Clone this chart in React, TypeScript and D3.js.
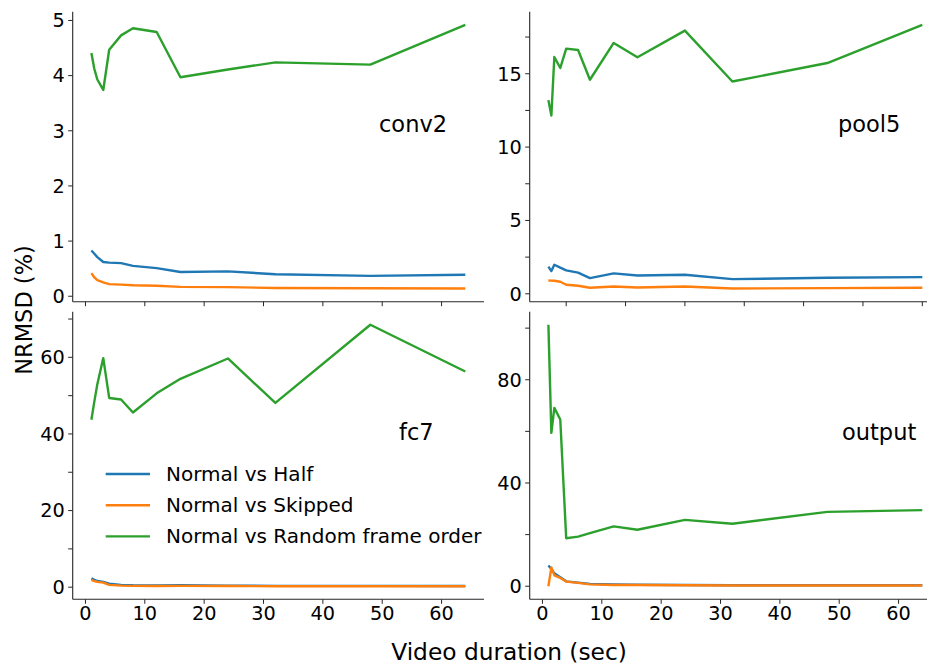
import React from "react";
import { scaleLinear, line, extent, range } from "d3";

// x: video duration in seconds
const durations = [1, 1.5, 2, 3, 4, 6, 8, 12, 16, 24, 32, 48, 64];
const seriesNames = ["Normal vs Half", "Normal vs Skipped", "Normal vs Random frame order"];
const seriesColors = ["#1f77b4", "#ff7f0e", "#2ca02c"];
const xTicks = [0, 10, 20, 30, 40, 50, 60];

const conv2Half = [0.83, 0.77, 0.71, 0.62, 0.61, 0.6, 0.55, 0.51, 0.44, 0.45, 0.4, 0.37, 0.39];
const conv2Skipped = [0.42, 0.34, 0.29, 0.25, 0.22, 0.21, 0.2, 0.19, 0.17, 0.165, 0.15, 0.145, 0.14];
const conv2Random = [4.41, 4.12, 3.93, 3.74, 4.47, 4.73, 4.86, 4.79, 3.97, 4.11, 4.24, 4.2, 4.92];

const pool5Half = [1.85, 1.55, 1.98, 1.78, 1.6, 1.44, 1.07, 1.39, 1.25, 1.3, 1.0, 1.09, 1.14];
const pool5Skipped = [0.91, 0.9, 0.89, 0.82, 0.62, 0.55, 0.41, 0.5, 0.43, 0.5, 0.36, 0.39, 0.41];
const pool5Random = [13.2, 12.15, 16.14, 15.39, 16.71, 16.62, 14.59, 17.1, 16.12, 17.94, 14.47, 15.73, 18.33];

const fc7Half = [2.3, 1.9, 1.6, 1.4, 0.9, 0.6, 0.5, 0.45, 0.5, 0.4, 0.35, 0.35, 0.3];
const fc7Skipped = [1.9, 1.6, 1.4, 1.2, 0.6, 0.4, 0.35, 0.3, 0.35, 0.3, 0.25, 0.25, 0.25];
const fc7Random = [43.7, 48.5, 53, 59.8, 49.4, 49.0, 45.6, 50.6, 54.4, 59.7, 48.1, 68.5, 56.3];

const outputHalf = [8.0, 6.7, 5.0, 3.5, 1.9, 1.4, 0.9, 0.7, 0.6, 0.5, 0.4, 0.4, 0.4];
const outputSkipped = [0, 7.3, 4.2, 3.2, 1.8, 1.3, 0.7, 0.5, 0.5, 0.4, 0.3, 0.3, 0.3];
const outputRandom = [101.3, 59.4, 69.1, 64.6, 18.6, 19.2, 20.6, 23.2, 21.9, 25.7, 24.2, 28.8, 29.5];

const ink = "#262626";
const font = "DejaVu Sans, sans-serif";
const tickFont = 19.3;

const panels = [
  {
    name: "conv2",
    series: [conv2Half, conv2Skipped, conv2Random],
    tickStep: 1, labelEvery: 1, tickMax: 5,
    left: 72.7, top: 11.7, width: 411.3, height: 290,
    labelX: 379, labelY: 132, xShift: 0, bottom: false,
  },
  {
    name: "pool5",
    series: [pool5Half, pool5Skipped, pool5Random],
    tickStep: 2.5, labelEvery: 2, tickMax: 17.5,
    left: 529.7, top: 11.7, width: 411.3, height: 290,
    labelX: 838, labelY: 132, xShift: 4, bottom: false,
  },
  {
    name: "fc7",
    series: [fc7Half, fc7Skipped, fc7Random],
    tickStep: 10, labelEvery: 2, tickMax: 70,
    left: 72.7, top: 311.7, width: 411.3, height: 287.6,
    labelX: 399, labelY: 440, xShift: 0, bottom: true,
  },
  {
    name: "output",
    series: [outputHalf, outputSkipped, outputRandom],
    tickStep: 20, labelEvery: 2, tickMax: 100,
    left: 529.7, top: 311.7, width: 411.3, height: 287.6,
    labelX: 842, labelY: 440, xShift: 0, bottom: true,
  },
];

const pad = (lo: number, hi: number) => {
  const m = (hi - lo) * 0.05;
  return [lo - m, hi + m];
};

const Panel = ({ p, showLegend }: { p: any; showLegend: boolean }) => {
  const [x0, x1] = extent(durations) as [number, number];
  const x = scaleLinear().domain(pad(x0, x1)).range([0, p.width]);
  const all = p.series.flat();
  const [y0, y1] = extent(all) as [number, number];
  const y = scaleLinear().domain(pad(y0, y1)).range([p.height, 0]);
  const path = line<number>()
    .x((_, i) => x(durations[i]))
    .y((d) => y(d));
  const yTicks = range(0, p.tickMax + p.tickStep / 2, p.tickStep);

  return (
    <g transform={`translate(${p.left},${p.top})`}>
      {p.series.map((s: number[], i: number) => (
        <path key={i} d={path(s) || ""} fill="none" stroke={seriesColors[i]} strokeWidth={2.4} strokeLinejoin="round" />
      ))}
      <line x1={0} x2={0} y1={0} y2={p.height} stroke={ink} strokeWidth={1.1} />
      <line x1={0} x2={p.width} y1={p.height} y2={p.height} stroke={ink} strokeWidth={1.1} />
      {yTicks.map((t: number, i: number) => (
        <g key={t} transform={`translate(0,${y(t)})`}>
          <line x1={-4.5} x2={0} stroke={ink} strokeWidth={1} />
          {i % p.labelEvery === 0 && (
            <text x={-8} dy="0.35em" textAnchor="end" fontSize={tickFont} fill="#000">
              {t}
            </text>
          )}
        </g>
      ))}
      {xTicks.map((t) => (
        <g key={t} transform={`translate(${x(t + p.xShift)},${p.height})`}>
          <line y1={0} y2={4.5} stroke={ink} strokeWidth={1} />
          {p.bottom && (
            <text y={21} textAnchor="middle" fontSize={tickFont} fill="#000">
              {t}
            </text>
          )}
        </g>
      ))}
      <text x={p.labelX - p.left} y={p.labelY - p.top} fontSize={22.5} fill="#000">
        {p.name}
      </text>
      {showLegend &&
        seriesNames.map((n, i) => (
          <g key={n} transform={`translate(${105.7 - p.left},${474 + i * 31.2 - p.top})`}>
            <line x1={0} x2={44.3} stroke={seriesColors[i]} strokeWidth={2.4} />
            <text x={60.3} dy="0.35em" fontSize={20} fill="#000">
              {n}
            </text>
          </g>
        ))}
    </g>
  );
};

const App = () => {
  return (
    <svg
      width={927}
      height={667}
      style={{ position: "absolute", left: 0, top: 0, background: "#fff", fontFamily: font }}
    >
      <rect width={927} height={667} fill="#fff" />
      {panels.map((p, i) => (
        <Panel key={p.name} p={p} showLegend={i === 2} />
      ))}
      <text
        transform="translate(32,310) rotate(-90)"
        textAnchor="middle"
        fontSize={22.5}
        fill="#000"
      >
        NRMSD (%)
      </text>
      <text x={509} y={660} textAnchor="middle" fontSize={23.3} fill="#000">
        Video duration (sec)
      </text>
    </svg>
  );
};

export default App;
